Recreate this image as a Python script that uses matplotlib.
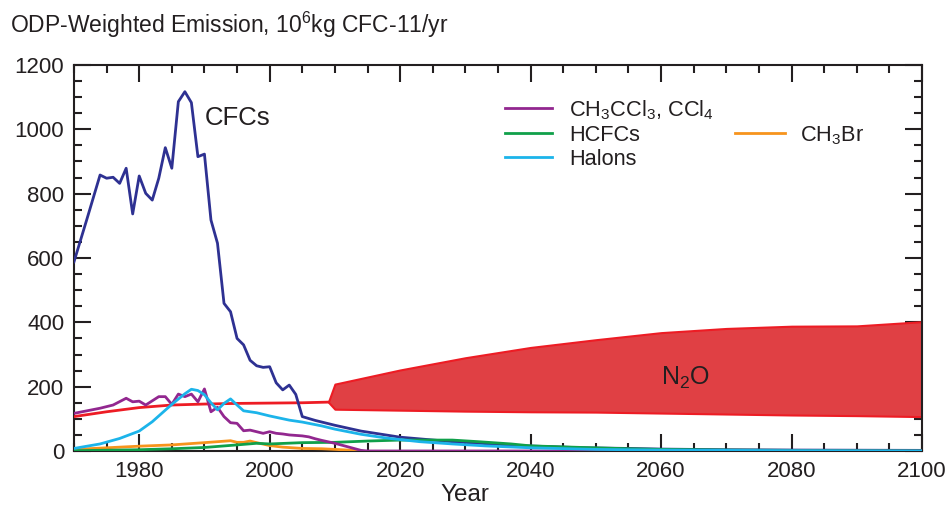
import matplotlib.pyplot as plt
from matplotlib.lines import Line2D
from matplotlib.ticker import MultipleLocator

plt.rcParams['font.family'] = ['Liberation Sans', 'DejaVu Sans']
plt.rcParams['mathtext.default'] = 'regular'

# ── DATA ─────────────────────────────────────────────────────────
cfc_years = [1970, 1971, 1972, 1973, 1974, 1975, 1976, 1977, 1978, 1979,
             1980, 1981, 1982, 1983, 1984, 1985, 1986, 1987, 1988, 1989,
             1990, 1991, 1992, 1993, 1994, 1995, 1996, 1997, 1998, 1999,
             2000, 2001, 2002, 2003, 2004, 2005, 2007, 2010, 2014, 2020,
             2028, 2038, 2048, 2055, 2060, 2070, 2080, 2100]
cfc_vals = [588, 655, 722, 790, 858, 848, 851, 832, 879, 737,
            855, 801, 780, 848, 943, 879, 1086, 1117, 1083, 915,
            923, 718, 646, 459, 433, 350, 330, 282, 265, 260,
            262, 212, 190, 205, 176, 107, 95, 80, 62, 43,
            29, 17, 10, 8, 6, 4, 3, 2]

ccl_years = [1970, 1972, 1974, 1976, 1978, 1979, 1980, 1981, 1983, 1984,
             1985, 1986, 1987, 1988, 1989, 1990, 1991, 1992, 1993, 1994,
             1995, 1996, 1997, 1998, 1999, 2000, 2001, 2002, 2003, 2005,
             2006, 2007, 2008, 2010, 2012, 2014, 2015, 2100]
ccl_vals = [117, 125, 133, 143, 164, 153, 155, 143, 169, 169,
            145, 177, 169, 177, 153, 193, 122, 136, 107, 88,
            86, 63, 65, 60, 55, 60, 55, 53, 50, 47,
            44, 38, 33, 24, 13, 2, 0, 0]

hcfc_years = [1970, 1980, 1985, 1990, 1995, 1998, 2000, 2005, 2010, 2015,
              2020, 2028, 2032, 2037, 2040, 2048, 2055, 2060, 2070, 2080, 2100]
hcfc_vals = [1, 4, 7, 11, 19, 24, 22, 26, 27, 31,
             34, 34, 29, 22, 16, 11, 7, 5, 3, 2, 1]

halon_years = [1970, 1974, 1977, 1980, 1982, 1985, 1987, 1988, 1989, 1990,
               1991, 1992, 1993, 1994, 1995, 1996, 1998, 2000, 2003, 2005,
               2008, 2010, 2014, 2018, 2023, 2028, 2033, 2040, 2050, 2060,
               2080, 2100]
halon_vals = [8, 22, 39, 62, 91, 145, 178, 192, 188, 175,
              150, 128, 148, 162, 143, 125, 119, 109, 96, 90,
              78, 68, 52, 40, 29, 22, 16, 10, 5, 3,
              1, 0]

ch3br_years = [1970, 1980, 1985, 1990, 1994, 1995, 1996, 1997, 1998, 2000,
               2002, 2005, 2008, 2012, 2014]
ch3br_vals = [5, 15, 19, 26, 32, 27, 27, 31, 26, 17,
              12, 8, 7, 3, 0]

n2o_years = [1970, 1975, 1980, 1985, 1990, 1995, 2000, 2005, 2009]
n2o_vals = [107, 122, 135, 143, 146, 148, 149, 150, 152]

# N2O projected range
n2o_proj_years = [2009, 2010, 2020, 2030, 2040, 2050, 2060, 2070, 2080, 2090, 2100]
n2o_proj_high = [152, 208, 252, 290, 322, 346, 368, 381, 388, 389, 402]
n2o_proj_low = [152, 130, 127, 124, 122, 121, 118, 115, 112, 110, 107]

# ── COLOURS ─────────────────────────────────────────────────────
c_cfc = '#2e3192'
c_ccl = '#92278f'
c_hcfc = '#10a04a'
c_halon = '#1cb4ea'
c_ch3br = '#f7941d'
c_n2o = '#ed1c24'
c_fill = '#e04044'
c_text = '#231f20'

fig = plt.figure(figsize=(9.46, 5.05), dpi=100)
ax = fig.add_axes([0.0782, 0.1069, 0.8964, 0.7644])

lw = 2.0
ax.fill_between(n2o_proj_years, n2o_proj_low, n2o_proj_high,
                facecolor=c_fill, edgecolor=c_n2o, linewidth=1.5, zorder=2)
ax.plot(n2o_years, n2o_vals, color=c_n2o, lw=lw, zorder=3)
ax.plot(cfc_years, cfc_vals, color=c_cfc, lw=lw, zorder=3)
ax.plot(ch3br_years, ch3br_vals, color=c_ch3br, lw=lw, zorder=3)
ax.plot(hcfc_years, hcfc_vals, color=c_hcfc, lw=lw, zorder=3)
ax.plot(ccl_years, ccl_vals, color=c_ccl, lw=lw, zorder=3)
ax.plot(halon_years, halon_vals, color=c_halon, lw=lw, zorder=4)

ax.set_xlim(1970, 2100)
ax.set_ylim(0, 1200)
ax.xaxis.set_minor_locator(MultipleLocator(5))
ax.yaxis.set_major_locator(MultipleLocator(200))
ax.yaxis.set_minor_locator(MultipleLocator(50))
ax.tick_params(which='both', direction='in', top=True, right=True,
               width=1.5, labelsize=16, colors=c_text)
ax.tick_params(which='major', length=12, pad=7)
ax.tick_params(which='minor', length=6)
ax.set_xticks([1980, 2000, 2020, 2040, 2060, 2080, 2100])
for s in ax.spines.values():
    s.set_linewidth(1.5)
    s.set_color(c_text)

ax.set_xlabel('Year', fontsize=17.5, color=c_text, labelpad=0)
ax.xaxis.set_label_coords(0.461, -0.085)
fig.text(0.011, 0.935, 'ODP-Weighted Emission, 10$^6$kg CFC-11/yr',
         fontsize=16.5, color=c_text, ha='left', va='baseline')

ax.text(1990.1, 1035, 'CFCs', fontsize=18.5, color=c_text,
        ha='left', va='center')
ax.text(2063.8, 227, 'N$_2$O', fontsize=18, color=c_text,
        ha='center', va='center')

h1 = [Line2D([], [], color=c_ccl, lw=lw),
      Line2D([], [], color=c_hcfc, lw=lw),
      Line2D([], [], color=c_halon, lw=lw)]
l1 = ['CH$_3$CCl$_3$, CCl$_4$', 'HCFCs', 'Halons']
leg1 = ax.legend(h1, l1, loc='upper left', bbox_to_anchor=(505 / 946, 1 - 98 / 505),
                 bbox_transform=fig.transFigure, frameon=False, fontsize=15.7,
                 handlelength=2.15, handletextpad=0.8, labelspacing=0.14,
                 borderpad=0, borderaxespad=0, labelcolor=c_text)
ax.add_artist(leg1)
ax.legend([Line2D([], [], color=c_ch3br, lw=lw)], ['CH$_3$Br'], loc='upper left',
          bbox_to_anchor=(735 / 946, 1 - 124 / 505), bbox_transform=fig.transFigure,
          frameon=False, fontsize=15.7, handlelength=2.3, handletextpad=0.7,
          borderpad=0, borderaxespad=0, labelcolor=c_text)

fig.savefig('out.png', dpi=100)
